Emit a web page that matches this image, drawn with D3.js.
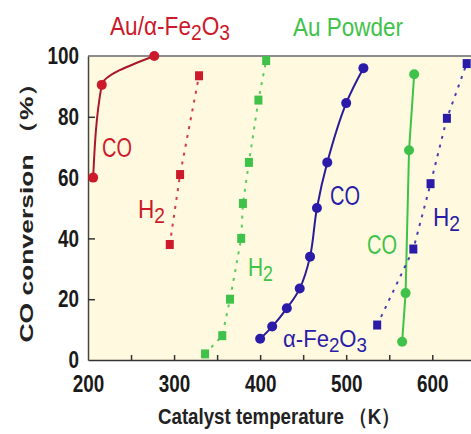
<!DOCTYPE html>
<html>
<head>
<meta charset="utf-8">
<script src="https://cdn.jsdelivr.net/npm/d3@7"></script>
<style>
  body { margin: 0; background: #fff; }
  text { font-family: "Liberation Sans", Arial, sans-serif; }
</style>
</head>
<body>
<div id="chart"></div>
<script>
// catalyst temperature (K) vs conversion (%)
const auFeCO_T = [206, 216, 277]
const auFeCO_V = [60, 90.5, 100]
const auFeH2_T = [295, 307, 329]
const auFeH2_V = [38, 61, 93.5]

const auPowCO_T = [565, 569, 573, 579]
const auPowCO_V = [6, 22, 69, 94]
const auPowH2_T = [336, 356, 365, 378, 380, 387, 398, 407]
const auPowH2_V = [2, 8, 20, 40, 51.5, 65, 85.5, 98.5]

const feCO_T = [400, 414, 431, 446, 458, 466, 478, 500, 520]
const feCO_V = [7, 11, 17, 23.5, 34, 50, 65, 84.5, 96]
const feH2_T = [536, 578, 598, 617, 640]
const feH2_V = [11.5, 36.5, 58, 79.5, 97.5]

const xTicks = [200, 300, 400, 500, 600]
const xMinor = [250, 300, 350, 400, 450, 500, 550, 600]
const yTicks = [0, 20, 40, 60, 80, 100]

const red = '#cc1a2a', green = '#3fc24a', blue = '#2a1ca8'

const width = 471, height = 434
const svg = d3.select('#chart').append('svg')
    .attr('width', width)
    .attr('height', height)

const x = d3.scaleLinear().domain([200, 645]).range([88, 471])
const y = d3.scaleLinear().domain([0, 100]).range([360, 56])

// plot background
svg.append('rect')
    .attr('x', x(200)).attr('y', y(100))
    .attr('width', x(645) - x(200)).attr('height', y(0) - y(100))
    .attr('fill', '#fffadf')

// top border
svg.append('line')
    .attr('x1', x(200)).attr('x2', x(645))
    .attr('y1', y(100)).attr('y2', y(100))
    .attr('stroke', '#8c8c8c').attr('stroke-width', 2)

// x axis
const gx = svg.append('g')
    .attr('transform', `translate(0,${y(0)})`)
    .call(d3.axisBottom(x).tickValues(xTicks).tickSizeInner(0).tickSizeOuter(0).tickPadding(15))
gx.selectAll('text')
    .style('font-size', '24px').style('font-weight', 'bold').attr('fill', '#1a1a1a')
    .attr('textLength', d => String(d).length * 10.5).attr('lengthAdjust', 'spacingAndGlyphs')
gx.select('.domain').attr('stroke', '#333').attr('stroke-width', 1.5)

svg.append('g')
    .attr('transform', `translate(0,${y(0)})`)
    .call(d3.axisBottom(x).tickValues(xMinor).tickSizeInner(-5).tickSizeOuter(0).tickFormat(''))
    .call(g => g.select('.domain').remove())
    .selectAll('line').attr('stroke', '#333').attr('stroke-width', 1.5)

// y axis
const gy = svg.append('g')
    .attr('transform', `translate(${x(200)},0)`)
    .call(d3.axisLeft(y).tickValues(yTicks).tickSizeInner(0).tickSizeOuter(0).tickPadding(9))
gy.selectAll('text')
    .style('font-size', '24px').style('font-weight', 'bold').attr('fill', '#1a1a1a')
    .attr('textLength', d => String(d).length * 10.5).attr('lengthAdjust', 'spacingAndGlyphs')
gy.select('.domain').attr('stroke', '#444').attr('stroke-width', 1.5)

svg.append('g')
    .attr('transform', `translate(${x(200)},0)`)
    .call(d3.axisLeft(y).tickValues([20, 40, 60, 80]).tickSizeInner(-7).tickSizeOuter(0).tickFormat(''))
    .call(g => g.select('.domain').remove())
    .selectAll('line').attr('stroke', '#333').attr('stroke-width', 1.5)

// axis titles
svg.append('text')
    .attr('transform', 'translate(33,206)rotate(-90)scale(1,0.78)')
    .attr('text-anchor', 'middle')
    .style('font-size', '24px').style('font-weight', 'bold')
    .attr('fill', '#222')
    .attr('textLength', 273).attr('lengthAdjust', 'spacingAndGlyphs')
    .text('CO conversion （%）')

svg.append('text')
    .attr('x', 158).attr('y', 424)
    .style('font-size', '22px').style('font-weight', 'bold')
    .attr('fill', '#222')
    .attr('textLength', 242).attr('lengthAdjust', 'spacingAndGlyphs')
    .text('Catalyst temperature （K）')

function zip(ts, vs) { return ts.map((t, i) => [t, vs[i]]) }

function solid(ts, vs, color, dot, curve) {
    svg.append('path')
        .attr('d', d3.line().x(d => x(d[0])).y(d => y(d[1])).curve(curve)(zip(ts, vs)))
        .attr('fill', 'none').attr('stroke', color).attr('stroke-width', 2)
    svg.append('g').selectAll('circle')
        .data(zip(ts, vs)).enter().append('circle')
        .attr('cx', d => x(d[0])).attr('cy', d => y(d[1]))
        .attr('r', 5).attr('fill', dot)
}

function dotted(ts, vs, color) {
    svg.append('path')
        .attr('d', d3.line().x(d => x(d[0])).y(d => y(d[1]))(zip(ts, vs)))
        .attr('fill', 'none').attr('stroke', color).attr('stroke-width', 2)
        .attr('stroke-dasharray', '3,6').attr('opacity', 0.85)
    svg.append('g').selectAll('rect')
        .data(zip(ts, vs)).enter().append('rect')
        .attr('x', d => x(d[0]) - 4).attr('y', d => y(d[1]) - 4.5)
        .attr('width', 8).attr('height', 9).attr('fill', color)
}

solid(auFeCO_T, auFeCO_V, '#a8182a', red, d3.curveMonotoneY)
dotted(auFeH2_T, auFeH2_V, red)
dotted(auPowH2_T, auPowH2_V, green)
solid(auPowCO_T, auPowCO_V, green, green, d3.curveLinear)
solid(feCO_T, feCO_V, '#2a1c98', blue, d3.curveCatmullRom)
dotted(feH2_T, feH2_V, blue)

// labels: [text, dy] parts, squeezed to the measured width
function label(px, py, color, parts, size, len) {
    const t = svg.append('text').attr('x', px).attr('y', py)
        .attr('fill', color).style('font-size', size + 'px')
        .attr('textLength', len).attr('lengthAdjust', 'spacingAndGlyphs')
    parts.forEach(p => {
        const s = t.append('tspan').text(p[0])
        if (p[1]) s.attr('dy', p[1])
        if (p[1] > 0) s.style('font-size', (size * 0.85) + 'px')
    })
}

label(110, 35, red, [['Au/α-Fe'], ['2', 5], ['O', -5], ['3', 5]], 25, 120)
label(293, 36, green, [['Au Powder']], 25, 110)
label(102, 157, red, [['CO']], 27, 30)
label(138, 218, red, [['H'], ['2', 5]], 26, 27)
label(330, 205, blue, [['CO']], 27, 30)
label(367, 254, green, [['CO']], 27, 30)
label(248, 276, green, [['H'], ['2', 5]], 26, 25)
label(433, 226, blue, [['H'], ['2', 5]], 26, 27)
label(283, 347, blue, [['α-Fe'], ['2', 5], ['O', -5], ['3', 5]], 24, 84)
</script>
</body>
</html>
